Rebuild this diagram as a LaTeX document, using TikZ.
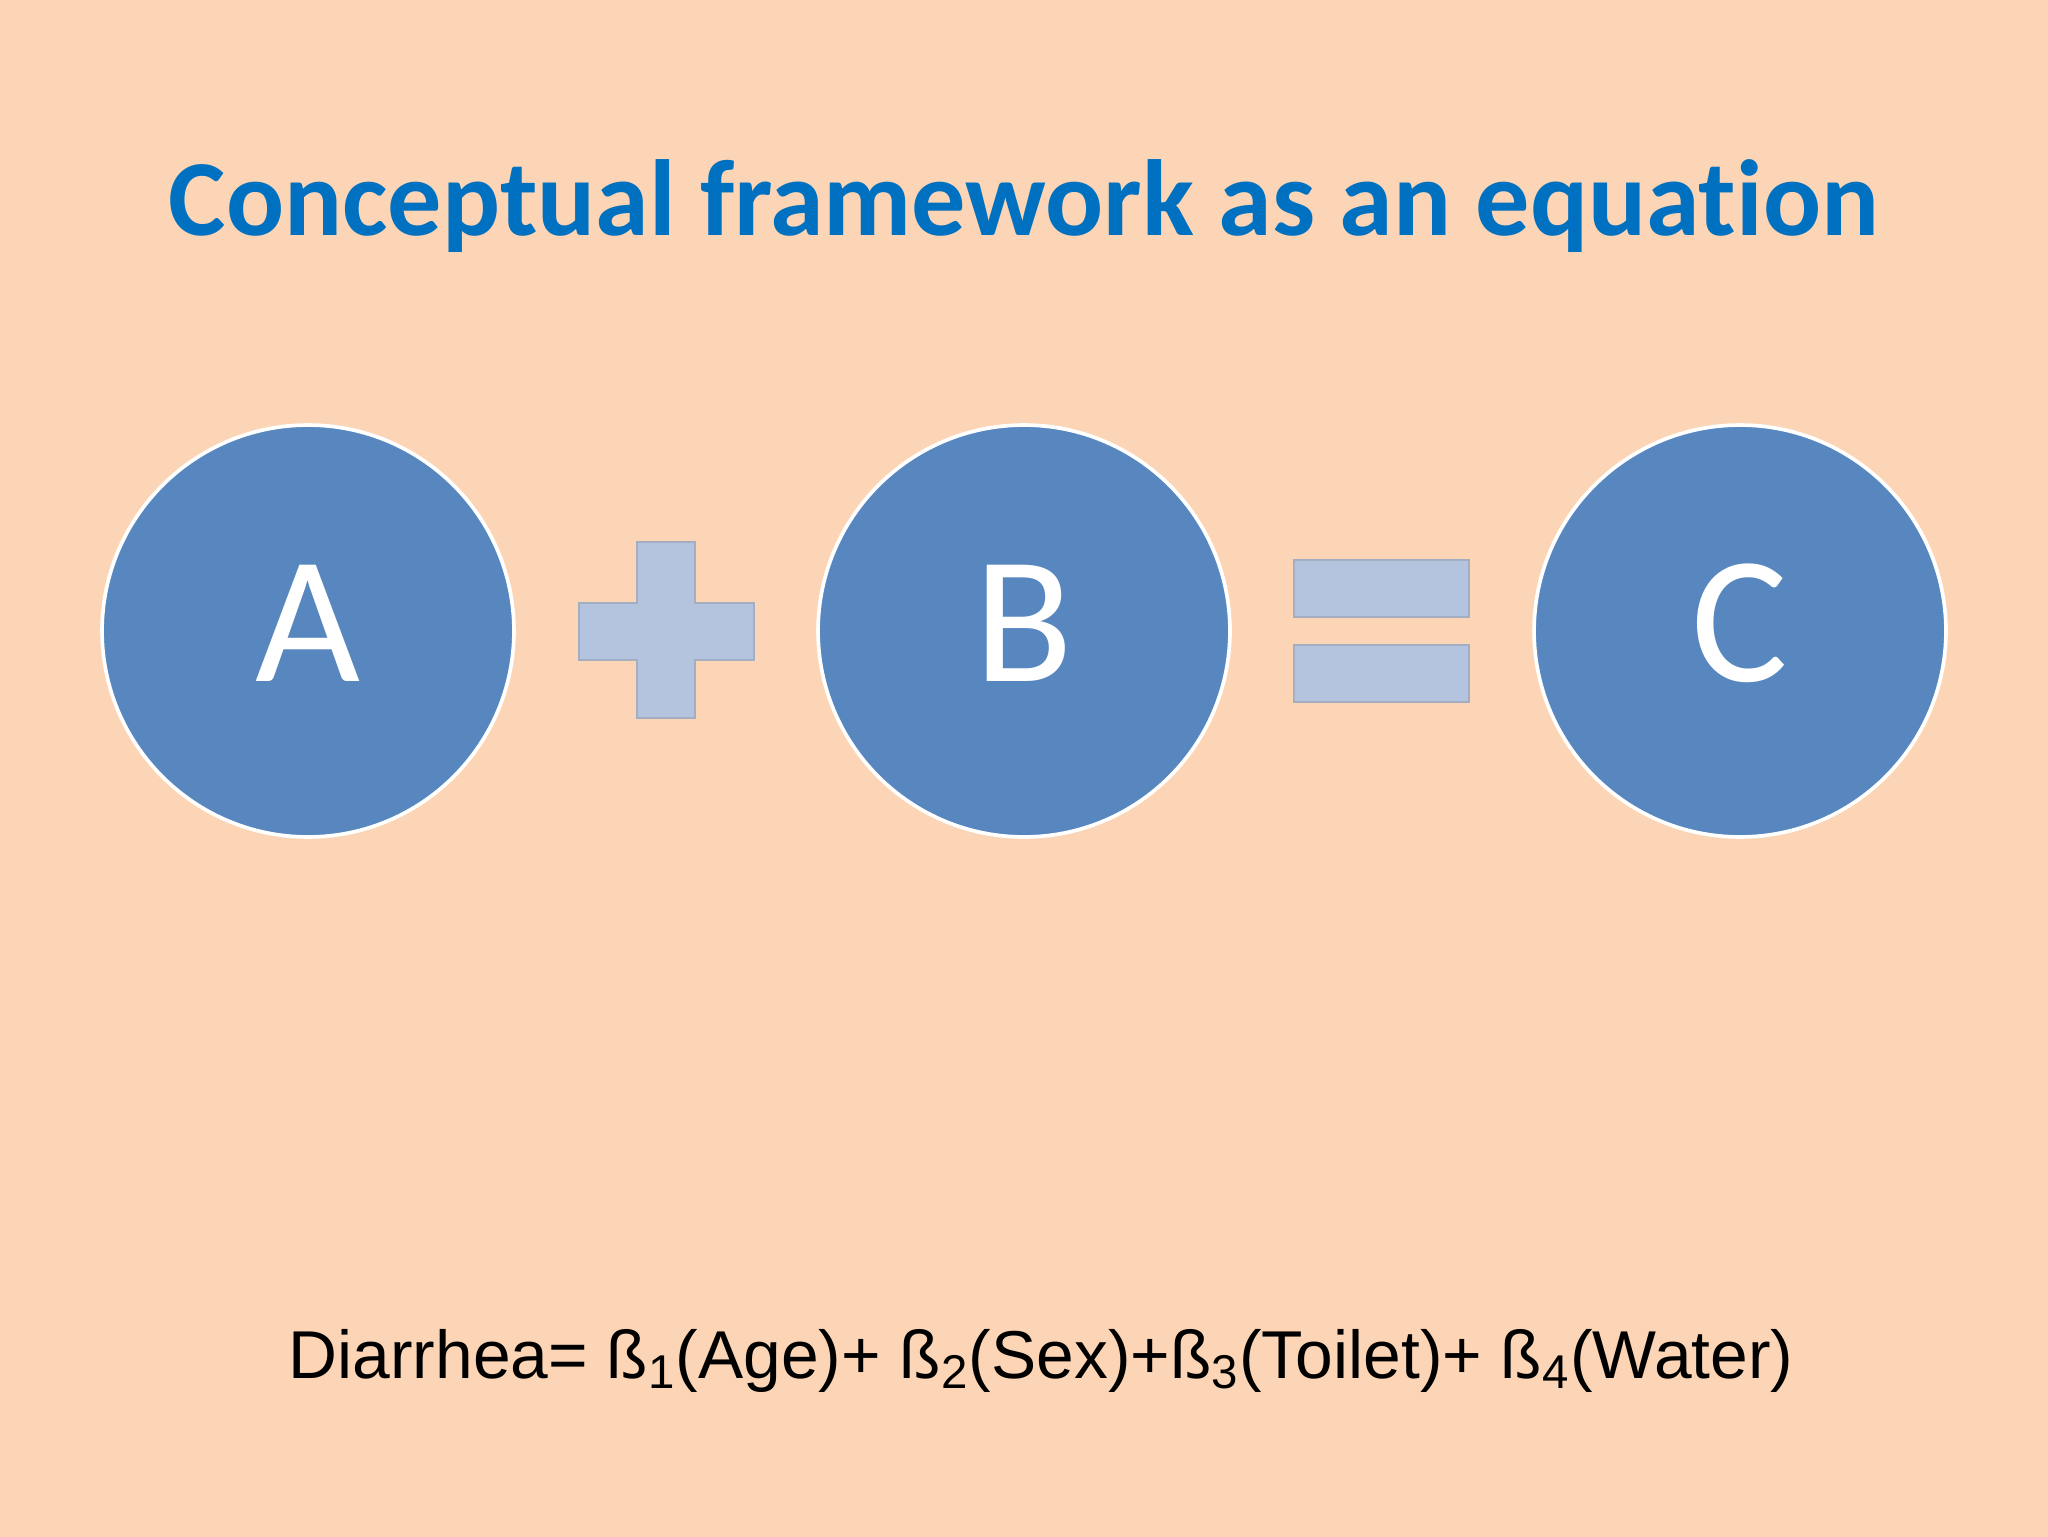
\documentclass[tikz,border=0pt]{standalone}
\usepackage{fontspec}
\setmainfont[Ligatures={NoCommon}]{Carlito}
\newfontfamily\arialfont{Liberation Sans}
\usetikzlibrary{calc}
\definecolor{slidebg}{HTML}{FBD5B5}
\definecolor{titleblue}{HTML}{0070C0}
\definecolor{circblue}{HTML}{5887C0}
\definecolor{signfill}{HTML}{B4C4DE}
\definecolor{signline}{HTML}{A3AEC2}

\begin{document}
\begin{tikzpicture}[x=0.0124cm, y=-0.0124cm,
term/.style = {circle, draw=white, line width=1.3pt, fill=circblue,
  minimum size=5.11cm, inner sep=0pt, text=white, text depth=0.2cm,
  font=\fontsize{64}{70}\selectfont},
sign/.style = {fill=signfill, draw=signline, line width=0.4pt},
heading/.style = {anchor=base, text=titleblue, font=\fontsize{38.2}{44}\selectfont\bfseries},
formula/.style = {anchor=base, text=black, font=\arialfont\fontsize{23.9}{29}\selectfont}
]

% slide background
\useasboundingbox (0,0) rectangle (2048,1536);
\fill [slidebg] (-8,-8) rectangle (2056,1544);

\node [heading] (title) at (1024,235) {Conceptual framework as an equation};

% the three terms
\node [term] (a) at (308,631) {A};
\node [term] (b) at (1024,631) {B};
\node [term] (c) at (1740,631) {C};

% plus sign
\draw [sign] (579,603) -- (637,603) -- (637,542) -- (695,542) -- (695,603)
  -- (754,603) -- (754,660) -- (695,660) -- (695,718) -- (637,718)
  -- (637,660) -- (579,660) -- cycle;

% equals sign
\draw [sign] (1294,560) rectangle (1469,617);
\draw [sign] (1294,645) rectangle (1469,702);

\node [formula] (eq) at (1041,1378) {Diarrhea= ß\textsubscript{1}(Age)+ ß\textsubscript{2}(Sex)+ß\textsubscript{3}(Toilet)+ ß\textsubscript{4}(Water)};

\end{tikzpicture}
\end{document}
